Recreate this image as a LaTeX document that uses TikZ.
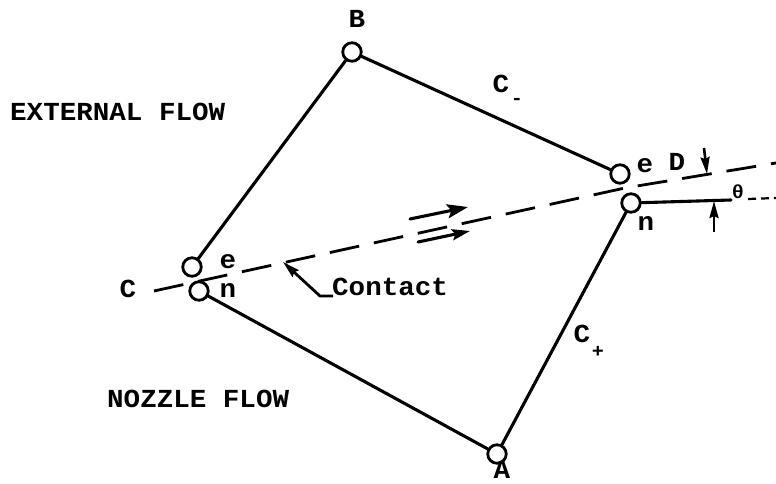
\documentclass[tikz,border=0pt]{standalone}
\usepackage{fontspec}
\newfontfamily\mono[FakeStretch=1.06]{Liberation Mono}
\usetikzlibrary{arrows.meta}
\begin{document}
\begin{tikzpicture}[x=1pt,y=-1pt,
  lw/.style={line width=3.1pt,line cap=round},
  port/.style={circle,draw,line width=2.8pt,minimum size=18.5pt,inner sep=0pt},
  lab/.style={font=\mono\bfseries\fontsize{26}{28}\selectfont,inner sep=0pt,anchor=base},
  labw/.style={font=\mono\bfseries\fontsize{26}{28}\selectfont,inner sep=0pt,anchor=base west},
  small/.style={font=\mono\bfseries\fontsize{19}{21}\selectfont,inner sep=0pt,anchor=base},
  dashline/.style={line width=2.8pt,dash pattern=on 30pt off 15pt},
  bigtip/.style={-{Stealth[length=21pt,width=14pt,inset=4pt]}},
  lowtip/.style={-{Stealth[length=18pt,width=11pt,inset=3pt]}},
  midtip/.style={-{Stealth[length=17pt,width=9pt,inset=2pt]}}]
\useasboundingbox (0,0) rectangle (776,484);

% points
\node[port] (B) at (352,52) {};
\node[port] (De) at (620,174) {};
\node[port] (Dn) at (631,203) {};
\node[port] (Ce) at (192,267) {};
\node[port] (Cn) at (199,291) {};
\node[port] (A) at (497,454) {};

% characteristics
\draw[lw] (B) -- (Ce);
\draw[lw] (B) -- (De);
\draw[lw] (Cn) -- (A);
\draw[lw] (A) -- (Dn);

% contact (slip) line
\coordinate (L) at (154,291);
\coordinate (M) at (625,188);
\coordinate (R) at (776,163);
\draw[dashline] (L) -- (M) -- (R);

% nozzle axis direction
\coordinate (H1) at (731,200);
\coordinate (H2) at (748,199);
\coordinate (H3) at (776,198);
\draw[lw] (Dn) -- (H1);
\draw[line width=2.2pt,dash pattern=on 8pt off 5pt] (H2) -- (H3);

% angle arrows
\coordinate (u1) at (704,148);
\coordinate (u2) at (707,174);
\coordinate (d1) at (714,232);
\coordinate (d2) at (714,201);
\draw[line width=2.6pt,midtip] (u1) -- (u2);
\draw[line width=2.6pt,midtip] (d1) -- (d2);

% shear arrows
\coordinate (f1s) at (410,219);
\coordinate (f1e) at (468,207);
\coordinate (f2s) at (418,242);
\coordinate (f2e) at (470,231);
\draw[lw,bigtip] (f1s) -- (f1e);
\draw[lw,lowtip] (f2s) -- (f2e);

% contact leader
\coordinate (k1) at (333,296);
\coordinate (k2) at (320,296);
\coordinate (k3) at (283,262);
\draw[line width=2.8pt,midtip] (k1) -- (k2) -- (k3);

% labels
\node[lab] (tB) at (357,28) {B};
\node[lab] (tCm) at (501,93) {C};
\node[small] (tminus) at (517,105) {-};
\node[lab] (tCp) at (582,342) {C};
\node[small] (tplus) at (598,357) {+};
\node[lab] (tA) at (502,478) {A};
\node[lab] (tC) at (128,297) {C};
\node[lab] (tCe) at (228,268) {e};
\node[lab] (tCn) at (228,297) {n};
\node[lab] (tDe) at (645,172) {e};
\node[lab] (tD) at (677,170) {D};
\node[lab] (tDn) at (646,230) {n};
\node[small] (tth) at (738,198) {θ};
\node[labw] (ext) at (10,121) {EXTERNAL FLOW};
\node[labw] (noz) at (107,407) {NOZZLE FLOW};
\node[labw] (con) at (332,295) {Contact};
\end{tikzpicture}
\end{document}
